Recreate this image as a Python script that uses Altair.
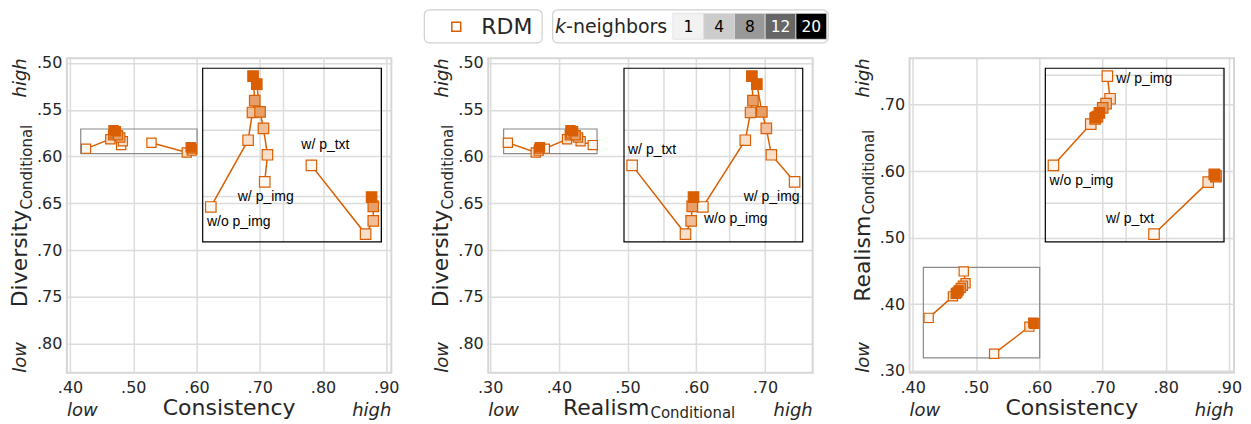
import altair as alt
import pandas as pd

# ---------------- data ----------------
METHODS = ["w/o p_img", "w/ p_img", "w/ p_txt"]
K_VALUES = [1, 4, 8, 12, 20]

consistency_wo_img = [0.4252, 0.4636, 0.4681, 0.4704, 0.4687]
consistency_w_img = [0.4807, 0.4835, 0.4794, 0.4759, 0.4725]
consistency_w_txt = [0.5287, 0.5845, 0.5924, 0.5924, 0.5907]

diversity_wo_img = [0.5916, 0.5815, 0.5773, 0.5755, 0.5718]
diversity_w_img = [0.5878, 0.5837, 0.5797, 0.5772, 0.5730]
diversity_w_txt = [0.5853, 0.5957, 0.5937, 0.5915, 0.5901]

realism_wo_img = [0.3796, 0.4119, 0.4159, 0.4177, 0.4169]
realism_w_img = [0.4494, 0.4317, 0.4279, 0.4245, 0.4207]
realism_w_txt = [0.3258, 0.3664, 0.3707, 0.3715, 0.3725]

CONS_TICKS = [0.40, 0.50, 0.60, 0.70, 0.80, 0.90]
DIV_TICKS = [0.50, 0.55, 0.60, 0.65, 0.70, 0.75, 0.80]
REAL_TICKS = [0.30, 0.40, 0.50, 0.60, 0.70]
CONS_INSET_TICKS = [0.50, 0.60]
DIV_INSET_TICKS = [0.58, 0.59]
REAL_INSET_TICKS = [0.35, 0.40, 0.45]

LEGEND_METHOD = ["RDM"]
LEGEND_K_TITLE = ["k", "-neighbors"]

# ---------------- styles ----------------
ORANGE = "#d95f02"
K_FILLS = ["#fdf7f2", "#f7dfcc", "#f0bf9a", "#e89f67", "#d95f02"]
K_GREYS = ["#f2f2f2", "#cccccc", "#999999", "#666666", "#000000"]
K_TEXT = ["#000000", "#000000", "#000000", "#ffffff", "#ffffff"]
GRID = "#dcdcdc"
TXT = "#262626"
W, H = 325, 315
INSET_X = [136, 315]
INSET_Y = [10, 184]

rows = []
series = {
    "w/o p_img": (consistency_wo_img, diversity_wo_img, realism_wo_img),
    "w/ p_img": (consistency_w_img, diversity_w_img, realism_w_img),
    "w/ p_txt": (consistency_w_txt, diversity_w_txt, realism_w_txt),
}
for m in METHODS:
    c, d, r = series[m]
    for i, k in enumerate(K_VALUES):
        rows.append(dict(method=m, k=k, consistency=c[i], diversity=d[i], realism=r[i]))
df = pd.DataFrame(rows).sort_values("k", kind="stable").reset_index(drop=True)


def pad(vals):
    lo, hi = min(vals), max(vals)
    r = hi - lo
    return [lo - 0.05 * r, hi + 0.05 * r]


INSET_DOM = {
    "consistency": pad(df["consistency"]),
    "diversity": pad(df["diversity"]),
    "realism": pad(df["realism"]),
}
MAIN_DOM = {
    "consistency": [0.395, 0.908],
    "diversity": [0.495, 0.831],
    "realism": [0.2972, 0.7695],
}
TICKS = {"consistency": CONS_TICKS, "diversity": DIV_TICKS, "realism": REAL_TICKS}
INSET_TICKS = {"consistency": CONS_INSET_TICKS, "diversity": DIV_INSET_TICKS,
               "realism": REAL_INSET_TICKS}

fill_scale = alt.Scale(domain=K_VALUES, range=K_FILLS)
LABEL_EXPR = "replace(format(datum.value, '.2f'), '0.', '.')"


def text_layer(t, x, y, size=22, angle=0, align="left", italic=False, baseline="alphabetic"):
    kw = dict(fontSize=size, align=align, baseline=baseline, color=TXT, angle=angle)
    if italic:
        kw["fontStyle"] = "italic"
    return alt.Chart(pd.DataFrame({"t": [t]})).mark_text(**kw).encode(
        x=alt.value(x), y=alt.value(y), text="t:N")


def panel(xf, yf, decor, labels):
    yrev = yf == "diversity"
    xs = alt.Scale(domain=MAIN_DOM[xf], nice=False, zero=False)
    ys = alt.Scale(domain=MAIN_DOM[yf], nice=False, zero=False, reverse=yrev)
    xax = alt.Axis(values=TICKS[xf], labelExpr=LABEL_EXPR, grid=True, gridColor=GRID,
                   gridWidth=1.5, ticks=False, domain=False, title=None, labelFontSize=16,
                   labelColor=TXT, labelPadding=7, labelFlush=False, labelOverlap=False)
    yax = alt.Axis(values=TICKS[yf], labelExpr=LABEL_EXPR, grid=True, gridColor=GRID,
                   gridWidth=1.5, ticks=False, domain=False, title=None, labelFontSize=16,
                   labelColor=TXT, labelPadding=5, labelFlush=False, labelOverlap=False)

    box = pd.DataFrame([{"x0": INSET_DOM[xf][0], "x1": INSET_DOM[xf][1],
                         "y0": INSET_DOM[yf][0], "y1": INSET_DOM[yf][1]}])

    main_box = alt.Chart(box).mark_rect(fillOpacity=0, stroke="#8a8a8a", strokeWidth=1.2).encode(
        x=alt.X("x0:Q", scale=xs, axis=xax), x2="x1:Q",
        y=alt.Y("y0:Q", scale=ys, axis=yax), y2="y1:Q")
    main_lines = alt.Chart(df).mark_line(color=ORANGE, strokeWidth=1.5).encode(
        x=alt.X(f"{xf}:Q", scale=xs, axis=xax),
        y=alt.Y(f"{yf}:Q", scale=ys, axis=yax),
        detail="method:N", order=alt.Order("k:Q"))
    main_pts = alt.Chart(df).mark_square(size=85, stroke=ORANGE, strokeWidth=1.2, opacity=1).encode(
        x=alt.X(f"{xf}:Q", scale=xs, axis=xax),
        y=alt.Y(f"{yf}:Q", scale=ys, axis=yax),
        fill=alt.Fill("k:O", scale=fill_scale, legend=None))
    main = alt.layer(main_box, main_lines, main_pts, *decor)

    ixs = alt.Scale(domain=INSET_DOM[xf], range=INSET_X, nice=False, zero=False)
    iys = alt.Scale(domain=INSET_DOM[yf], range=INSET_Y if yrev else INSET_Y[::-1],
                    nice=False, zero=False)
    gv = pd.DataFrame({"g": INSET_TICKS[xf]})
    gv["a"], gv["b"] = INSET_DOM[yf]
    gh = pd.DataFrame({"g": INSET_TICKS[yf]})
    gh["a"], gh["b"] = INSET_DOM[xf]
    grid_v = alt.Chart(gv).mark_rule(color=GRID, strokeWidth=1.5).encode(
        x=alt.X("g:Q", scale=ixs, axis=None), y=alt.Y("a:Q", scale=iys, axis=None), y2="b:Q")
    grid_h = alt.Chart(gh).mark_rule(color=GRID, strokeWidth=1.5).encode(
        y=alt.Y("g:Q", scale=iys, axis=None), x=alt.X("a:Q", scale=ixs, axis=None), x2="b:Q")
    frame = alt.Chart(box).mark_rect(fillOpacity=0, stroke="black", strokeWidth=1.2).encode(
        x=alt.X("x0:Q", scale=ixs, axis=None), x2="x1:Q",
        y=alt.Y("y0:Q", scale=iys, axis=None), y2="y1:Q")
    in_lines = alt.Chart(df).mark_line(color=ORANGE, strokeWidth=1.5).encode(
        x=alt.X(f"{xf}:Q", scale=ixs, axis=None),
        y=alt.Y(f"{yf}:Q", scale=iys, axis=None),
        detail="method:N", order=alt.Order("k:Q"))
    in_pts = alt.Chart(df).mark_square(size=110, stroke=ORANGE, strokeWidth=1.2, opacity=1).encode(
        x=alt.X(f"{xf}:Q", scale=ixs, axis=None),
        y=alt.Y(f"{yf}:Q", scale=iys, axis=None),
        fill=alt.Fill("k:O", scale=fill_scale, legend=None))
    lab_layers = []
    for m, dx, dy in labels:
        lab_layers.append(
            alt.Chart(df).transform_filter(
                (alt.datum.k == K_VALUES[0]) & (alt.datum.method == m)
            ).mark_text(font="Liberation Sans", fontSize=14, color="black", dx=dx, dy=dy,
                        align="center", baseline="middle").encode(
                x=alt.X(f"{xf}:Q", scale=ixs, axis=None),
                y=alt.Y(f"{yf}:Q", scale=iys, axis=None),
                text="method:N"))
    inset = alt.layer(grid_v, grid_h, in_lines, in_pts, frame, *lab_layers)

    return alt.layer(main, inset).resolve_scale(x="independent", y="independent").properties(
        width=W, height=H, view=alt.ViewBackground(stroke="#d6d6d6", strokeWidth=2))


def low_high():
    return [
        text_layer("low", 0, 358, size=18, italic=True, align="left"),
        text_layer("high", W, 358, size=18, italic=True, align="right"),
        text_layer("high", -40.5, 0, size=18, italic=True, align="right", angle=270),
        text_layer("low", -40.5, H, size=18, italic=True, align="left", angle=270),
    ]


p1 = panel("consistency", "diversity",
           low_high() + [
               text_layer("Consistency", W / 2, 357.5, align="center"),
               text_layer("Diversity", -40, 249.5, angle=270),
               text_layer("Conditional", -35, 151.5, size=15, angle=270),
           ],
           [("w/o p_img", 28, 15), ("w/ p_img", 1, 15), ("w/ p_txt", 14, -20)])

p2 = panel("realism", "diversity",
           low_high() + [
               text_layer("Realism", 75, 357.5),
               text_layer("Conditional", 162.5, 360.5, size=15),
               text_layer("Diversity", -40, 249.5, angle=270),
               text_layer("Conditional", -35, 151.5, size=15, angle=270),
           ],
           [("w/ p_txt", 20, -15), ("w/ p_img", -23, 15), ("w/o p_img", 33, 12)])

p3 = panel("consistency", "realism",
           low_high() + [
               text_layer("Consistency", W / 2, 357.5, align="center"),
               text_layer("Realism", -40, 244, angle=270),
               text_layer("Conditional", -35.5, 156.5, size=15, angle=270),
           ],
           [("w/ p_img", 37, 3), ("w/o p_img", 28, 16), ("w/ p_txt", -24, -15)])

row = alt.hconcat(p1, p2, p3, spacing=97, bounds="flush")

# ---------------- legend row ----------------
one = pd.DataFrame({"a": [0]})
LW = 3 * W + 2 * 97
rdm_box = alt.Chart(one).mark_rect(cornerRadius=5, fill="white", stroke="#d0d0d0", strokeWidth=1.2).encode(
    x=alt.value(358), x2=alt.value(476), y=alt.value(0.5), y2=alt.value(33.5))
kn_box = alt.Chart(one).mark_rect(cornerRadius=5, fill="white", stroke="#d0d0d0", strokeWidth=1.2).encode(
    x=alt.value(486.5), x2=alt.value(762.5), y=alt.value(0.5), y2=alt.value(33.5))
rdm_sym = alt.Chart(one).mark_point(shape="square", filled=False, size=80, color=ORANGE,
                                    strokeWidth=1.5, opacity=1).encode(
    x=alt.value(390), y=alt.value(17.5))
rdm_txt = alt.Chart(pd.DataFrame({"t": LEGEND_METHOD})).mark_text(
    fontSize=22, align="left", baseline="middle", color=TXT).encode(
    x=alt.value(415), y=alt.value(17.5), text="t:N")
k_txt = alt.Chart(pd.DataFrame({"t": LEGEND_K_TITLE[:1]})).mark_text(
    fontSize=19, align="left", baseline="middle", fontStyle="italic", color=TXT).encode(
    x=alt.value(489), y=alt.value(17.5), text="t:N")
kn_txt = alt.Chart(pd.DataFrame({"t": LEGEND_K_TITLE[1:]})).mark_text(
    fontSize=19, align="left", baseline="middle", color=TXT).encode(
    x=alt.value(500), y=alt.value(17.5), text="t:N")
kdf = pd.DataFrame({"k": K_VALUES})
kx = alt.X("k:O", scale=alt.Scale(domain=K_VALUES, range=[607, 761], paddingInner=0,
                                  paddingOuter=0), axis=None)
cells = alt.Chart(kdf).mark_rect(stroke="#e0e0e0", strokeWidth=0.8).encode(
    x=kx, y=alt.value(4), y2=alt.value(30),
    fill=alt.Fill("k:O", scale=alt.Scale(domain=K_VALUES, range=K_GREYS), legend=None))
cell_txt = alt.Chart(kdf).mark_text(fontSize=15.5, baseline="middle").encode(
    x=kx, y=alt.value(17.5), text="k:N",
    color=alt.Color("k:O", scale=alt.Scale(domain=K_VALUES, range=K_TEXT), legend=None))
legend = alt.layer(rdm_box, kn_box, rdm_sym, rdm_txt, k_txt, kn_txt, cells, cell_txt).properties(
    width=LW, height=34, view=alt.ViewBackground(stroke="transparent"))

chart = alt.vconcat(legend, row, spacing=15, bounds="flush").resolve_scale(
    fill="independent", color="independent"
).properties(padding=0).configure(font="DejaVu Sans").configure_view(stroke="transparent")

chart.save("out.html", embed_options={"renderer": "svg", "actions": False})
